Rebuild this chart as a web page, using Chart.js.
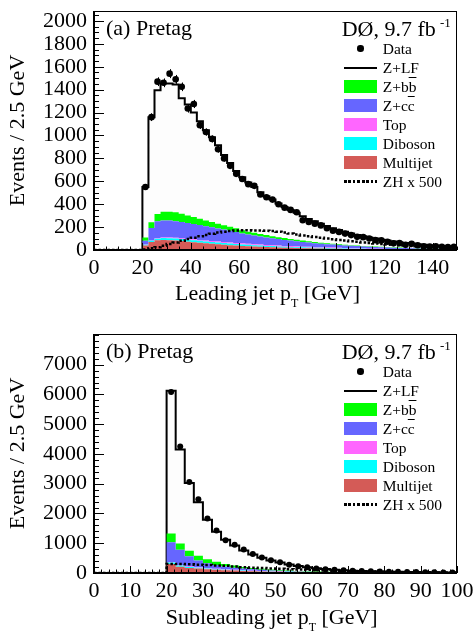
<!DOCTYPE html>
<html><head><meta charset="utf-8">
<script src="https://cdn.jsdelivr.net/npm/chart.js@4.4.1/dist/chart.umd.min.js"></script>
<style>
html,body{margin:0;padding:0;background:#fff;}
#wrap{position:relative;width:474px;height:636px;overflow:hidden;font-family:'Liberation Serif','Times New Roman',serif;color:#000;background:#fff;}
canvas{position:absolute;left:0;}
.t{position:absolute;white-space:nowrap;line-height:1;font-family:'Liberation Serif','Times New Roman',serif;color:#000;}
</style></head><body>
<div id="wrap">
<canvas id="cA" width="474" height="318" style="top:0"></canvas>
<canvas id="cB" width="474" height="318" style="top:318px"></canvas>
</div>
<script>
// ---------------- data ----------------
const binWidth = 2.5;
// Panel (a): leading jet pT, 60 bins of 2.5 GeV (0-150)
const xTicksA = [0,20,40,60,80,100,120,140];
const yTicksA = [0,200,400,600,800,1000,1200,1400,1600,1800,2000];
const dataA = [null,null,null,null,null,null,null,null,
  550,1160,1470,1460,1540,1490,1425,1235,1275,1090,
  1030,970,880,800,735,665,620,575,560,485,
  460,440,400,370,350,330,260,245,230,215,
  190,168,158,143,130,115,112,100,86,84,
  72,58,60,45,55,42,32,30,32,28,
  25,27];
const multijetA = [0,0,0,0,0,0,0,0,
  40,70,85,88,86,82,78,72,68,63,
  58,54,50,46,42,39,36,33,30,28,
  26,24,22,20,19,17,16,15,14,13,
  12,11,10,9,8,8,7,6,6,5,
  5,4,4,4,3,3,3,3,2,2,
  2,2];
const dibosonA = [0,0,0,0,0,0,0,0,
  5,10,14,16,17,18,18,18,18,17,
  17,16,16,15,14,14,13,12,12,11,
  10,10,9,9,8,8,7,7,6,6,
  5,5,5,4,4,4,3,3,3,3,
  2,2,2,2,2,2,1,1,1,1,
  1,1];
const topA = [0,0,0,0,0,0,0,0,
  2,3,4,5,6,6,7,7,8,8,
  8,9,9,9,9,9,9,9,9,9,
  8,8,8,7,7,7,6,6,6,5,
  5,5,4,4,4,3,3,3,3,2,
  2,2,2,2,1,1,1,1,1,1,
  1,1];
const zccA = [0,0,0,0,0,0,0,0,
  33,109,147,148,148,146,141,139,134,130,
  125,119,113,108,103,96,87,81,75,70,
  66,60,56,52,48,44,41,37,34,31,
  29,26,24,23,21,19,18,16,14,14,
  13,12,10,9,9,8,8,7,7,6,
  6,5];
const zbbA = [0,0,0,0,0,0,0,0,
  30,51,64,77,77,77,72,66,60,55,
  50,46,42,38,34,32,27,25,24,22,
  20,19,17,16,14,13,12,11,10,9,
  8,7,7,6,5,5,5,5,4,4,
  4,4,4,3,3,3,3,3,3,3,
  2,2];
const zlfA = [0,0,0,0,0,0,0,0,
  440,917,1081,1121,1121,1116,1009,968,912,852,
  787,741,685,614,558,500,463,430,400,365,
  340,319,293,271,254,236,213,194,180,166,
  151,136,125,114,103,93,84,77,70,62,
  56,51,46,42,38,34,30,27,24,22,
  20,18];
const zhA = [0,0,0,0,0,0,0,0,
  5,15,25,38,52,65,80,95,108,120,
  132,142,152,160,166,170,172,172,171,170,
  168,165,160,152,143,135,127,120,113,106,
  100,94,88,82,76,71,66,61,57,53,
  49,46,42,39,36,33,30,27,25,22,
  20,18];

// Panel (b): subleading jet pT, 40 bins of 2.5 GeV (0-100)
const xTicksB = [0,10,20,30,40,50,60,70,80,90,100];
const yTicksB = [0,1000,2000,3000,4000,5000,6000,7000];
const dataB = [null,null,null,null,null,null,null,null,
  6080,4250,3060,2480,1830,1430,1100,950,790,640,
  520,430,360,280,230,195,150,125,105,90,
  75,68,58,50,44,38,32,30,26,22,
  20,18];
const multijetB = [0,0,0,0,0,0,0,0,
  300,210,170,150,130,110,95,80,70,60,
  52,45,38,33,28,24,20,17,15,13,
  11,10,9,8,7,6,5,5,4,4,
  3,3];
const dibosonB = [0,0,0,0,0,0,0,0,
  50,40,32,27,23,20,17,15,13,11,
  10,9,8,7,6,5,5,4,4,3,
  3,3,2,2,2,2,1,1,1,1,
  1,1];
const topB = [0,0,0,0,0,0,0,0,
  20,18,16,15,14,12,11,10,9,8,
  7,6,6,5,5,4,4,3,3,3,
  2,2,2,2,1,1,1,1,1,1,
  1,1];
const zccB = [0,0,0,0,0,0,0,0,
  665,517,342,228,163,128,97,75,58,46,
  36,28,22,17,13,11,8,7,5,4,
  4,3,3,2,2,2,2,2,1,1,
  1,1];
const zbbB = [0,0,0,0,0,0,0,0,
  295,205,190,160,135,105,85,70,55,45,
  35,28,23,19,16,13,11,10,8,7,
  6,5,4,4,4,3,2,2,2,2,
  2,1];
const zlfB = [0,0,0,0,0,0,0,0,
  4790,3160,2270,1800,1325,1015,815,670,555,450,
  370,304,253,204,167,138,112,91,75,62,
  52,44,37,31,27,23,20,17,15,13,
  11,10];
const zhB = [0,0,0,0,0,0,0,0,
  305,300,290,280,268,255,240,218,195,180,
  168,155,143,130,118,106,95,85,76,68,
  60,53,47,41,36,32,28,25,22,19,
  17,15];

// ---------------- styling ----------------
const FONT = "'Liberation Serif', 'Times New Roman', serif";
const colors = {mj:'#d45b57', dib:'#00ffff', top:'#ff66ff', zcc:'#6666ff', zbb:'#00ff00', zlf:'#fdfdfd'};

function stepPoints(vals){
  const pts = vals.map((v,i)=>({x:i*binWidth, y:v}));
  pts.push({x:vals.length*binWidth, y:vals[vals.length-1]});
  return pts;
}
function centerPoints(vals){
  const pts=[];
  vals.forEach((v,i)=>{ if(v!==null) pts.push({x:(i+0.5)*binWidth, y:v}); });
  return pts;
}

const axesPlugin = {
  id:'rootAxes',
  afterDatasetsDraw(chart, args, o){
    const {ctx, chartArea:a, scales:{x,y}} = chart;
    ctx.save();
    ctx.strokeStyle='#000';
    ctx.lineWidth=1;
    ctx.beginPath();
    for(let v=0; v<=o.xMax+1e-9; v+=o.xMinor){
      const px=Math.round(x.getPixelForValue(v))+0.5;
      const major=o.xMaj.includes(Math.round(v*1000)/1000);
      const len=major?o.xMajLen:o.xMinLen;
      ctx.moveTo(px,a.bottom); ctx.lineTo(px,a.bottom-len);
    }
    for(let v=0; v<=o.yMax+1e-9; v+=o.yMinor){
      const py=Math.round(y.getPixelForValue(v))+0.5;
      const major=o.yMaj.includes(v);
      const len=major?o.yMajLen:o.yMinLen;
      ctx.moveTo(a.left,py); ctx.lineTo(a.left+len,py);
    }
    ctx.stroke();
    // error bars on data
    chart.data.datasets.forEach((ds)=>{
      if(ds.label!=='Data') return;
      ctx.beginPath();
      ds.data.forEach(p=>{
        const e=Math.sqrt(p.y);
        const px=Math.round(x.getPixelForValue(p.x))+0.5;
        ctx.moveTo(px,y.getPixelForValue(p.y+e));
        ctx.lineTo(px,y.getPixelForValue(Math.max(p.y-e,0)));
      });
      ctx.stroke();
    });
    // frame
    ctx.lineWidth=1;
    ctx.strokeRect(Math.round(a.left)+0.5, Math.round(a.top)+0.5, Math.round(a.right-a.left)-1, Math.round(a.bottom-a.top)-1);
    ctx.lineWidth=2;
    ctx.beginPath();
    ctx.moveTo(Math.round(a.left), Math.round(a.top));
    ctx.lineTo(Math.round(a.left), Math.round(a.bottom));
    ctx.lineTo(Math.round(a.right), Math.round(a.bottom));
    ctx.stroke();
    ctx.restore();
  }
};

function buildChart(id, p){
  const stackDefs = [
    ['Multijet', p.mj, colors.mj],
    ['Diboson', p.db, colors.dib],
    ['Top', p.top, colors.top],
    ['Z+cc', p.zcc, colors.zcc],
    ['Z+bb', p.zbb, colors.zbb],
    ['Z+LF', p.zlf, colors.zlf]
  ];
  const datasets = stackDefs.map((d,i)=>({
    label:d[0], data:stepPoints(d[1]), stepped:true,
    backgroundColor:d[2],
    borderColor: i===5 ? '#000' : 'rgba(0,0,0,0)',
    borderWidth: i===5 ? 2 : 0,
    fill: i===0 ? 'origin' : '-1',
    pointRadius:0, stack:'mc', order:5
  }));
  datasets.push({label:'ZH x 500', data:stepPoints(p.zh), stepped:true,
    borderColor:'#000', borderWidth:2.5, borderDash:[2.5,2], fill:false,
    pointRadius:0, stack:'zh', order:1});
  datasets.push({label:'Data', data:centerPoints(p.data), showLine:false,
    pointRadius:p.r, pointBackgroundColor:'#000', pointBorderWidth:0,
    pointBorderColor:'#000', stack:'data', order:0});

  return new Chart(document.getElementById(id), {
    type:'line',
    data:{datasets},
    plugins:[axesPlugin],
    options:{
      responsive:false, animation:false, events:[],
      layout:{padding:{left:0,right:17,top:p.padTop,bottom:0}},
      plugins:{
        legend:{display:false}, tooltip:{enabled:false},
        rootAxes:{xMax:p.xMax, yMax:p.yMax, xMinor:p.xMinor, yMinor:p.yMinor,
          xMaj:p.xTicks, yMaj:p.yTicks, xMajLen:7, xMinLen:3.5, yMajLen:10, yMinLen:5}
      },
      scales:{
        x:{type:'linear', min:0, max:p.xMax,
          afterBuildTicks:s=>{ s.ticks = p.xTicks.map(v=>({value:v})); },
          afterFit:s=>{ s.height=p.xH; s.paddingLeft=0; s.paddingRight=0; },
          grid:{display:false, drawTicks:false}, border:{display:false},
          ticks:{font:{family:FONT,size:22}, color:'#000', padding:5, maxRotation:0, autoSkip:false,
            callback:v=>String(v)}
        },
        y:{type:'linear', min:0, max:p.yMax, stacked:true,
          afterBuildTicks:s=>{ s.ticks = p.yTicks.map(v=>({value:v})); },
          afterFit:s=>{ s.width=94; s.paddingTop=0; s.paddingBottom=0; },
          grid:{display:false, drawTicks:false}, border:{display:false},
          ticks:{font:{family:FONT,size:22}, color:'#000', padding:7, autoSkip:false,
            callback:v=>String(v)},
          title:{display:true, text:'Events / 2.5 GeV', font:{family:FONT,size:22}, color:'#000', padding:{top:5,bottom:0}}
        }
      }
    }
  });
}

buildChart('cA', {mj:multijetA, db:dibosonA, top:topA, zcc:zccA, zbb:zbbA, zlf:zlfA, zh:zhA, data:dataA,
  r:3.3, xMax:150, yMax:2087, xTicks:xTicksA, yTicks:yTicksA, xMinor:5, yMinor:50, padTop:11, xH:68});
buildChart('cB', {mj:multijetB, db:dibosonB, top:topB, zcc:zccB, zbb:zbbB, zlf:zlfB, zh:zhB, data:dataB,
  r:3, xMax:100, yMax:8030, xTicks:xTicksB, yTicks:yTicksB, xMinor:2, yMinor:200, padTop:16, xH:63});

// ---------------- text & legend overlays ----------------
const wrap = document.getElementById('wrap');
function addEl(html, left, top, size, center){
  const d=document.createElement('div'); d.className='t';
  d.style.left=left+'px'; d.style.top=top+'px'; d.style.fontSize=size+'px';
  if(center) d.style.transform='translateX(-50%)';
  d.innerHTML=html; wrap.appendChild(d); return d;
}
function addBox(left, top, w, h, css){
  const d=document.createElement('div');
  d.style.cssText='position:absolute;left:'+left+'px;top:'+top+'px;width:'+w+'px;height:'+h+'px;'+css;
  wrap.appendChild(d);
}
const legendItems = [
  {label:'Data', kind:'dot'},
  {label:'Z+LF', kind:'line'},
  {label:'Z+b<span style="text-decoration:overline">b</span>', kind:'box', color:colors.zbb},
  {label:'Z+c<span style="text-decoration:overline">c</span>', kind:'box', color:colors.zcc},
  {label:'Top', kind:'box', color:colors.top},
  {label:'Diboson', kind:'box', color:colors.dib},
  {label:'Multijet', kind:'box', color:colors.mj},
  {label:'ZH x 500', kind:'dash'}
];
function panelText(dy, tag, xTitle, xTitleCenter){
  addEl(tag+' Pretag', 106, 16.6+dy, 22);
  addEl('DØ, 9.7 fb', 341.7, 17.6+dy, 22);
  addEl('-1', 440, 16+dy, 13);
  legendItems.forEach((it,i)=>{
    const yc = 48.5 + 19*i + dy;
    const x0 = 344, w = 32.7;
    if(it.kind==='box') addBox(x0, yc-6.7, w, 13.3, 'background:'+it.color);
    else if(it.kind==='line') addBox(x0, yc-1, w, 2, 'background:#000');
    else if(it.kind==='dot') addBox(x0+w/2-3.2, yc-3.2, 6.4, 6.4, 'background:#000;border-radius:50%');
    else addBox(x0, yc-1.25, w, 2.5, 'background:repeating-linear-gradient(90deg,#000 0 2.5px,transparent 2.5px 4.5px)');
    addEl(it.label, 382.7, yc-7.8, 15.5);
  });
  addEl(xTitle+' p<span style="font-size:12px;position:relative;top:7px">T</span> [GeV]', xTitleCenter, (dy===0?281.6:605.6), 22, true);
}
panelText(0, '(a)', 'Leading jet', 267.5);
panelText(323, '(b)', 'Subleading jet', 271.7);
</script>
</body></html>
